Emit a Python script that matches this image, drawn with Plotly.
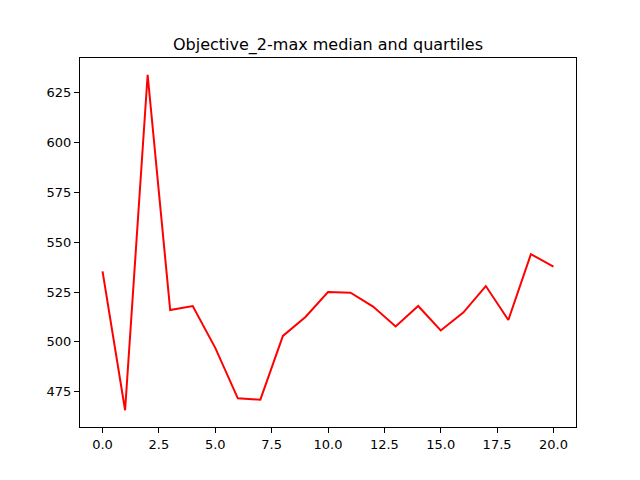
from plotly import graph_objects as go

# Data
generation = list(range(21))
median = [535.4, 465.7, 634.0, 516.0, 518.0, 497.0, 471.7, 471.0, 503.0, 512.5,
          525.0, 524.7, 517.7, 507.7, 518.0, 505.7, 514.7, 528.0, 511.0, 544.0, 537.7]
x_ticks = [0, 2.5, 5, 7.5, 10, 12.5, 15, 17.5, 20]
y_ticks = [475, 500, 525, 550, 575, 600, 625]

FONT = "DejaVu Sans, Arial, sans-serif"

axis_style = dict(
    showgrid=False,
    zeroline=False,
    showline=True,
    linecolor="black",
    linewidth=1,
    mirror=True,
    ticks="outside",
    ticklen=5,
    tickwidth=1,
    tickcolor="black",
    tickfont=dict(family=FONT, size=13, color="black"),
)

fig = go.Figure(
    go.Scatter(
        x=generation,
        y=median,
        mode="lines",
        line=dict(color="red", width=2),
    )
)

# the page adds ~8px offset, so margins are shifted to compensate
fig.update_layout(
    width=640,
    height=480,
    autosize=False,
    paper_bgcolor="white",
    plot_bgcolor="white",
    showlegend=False,
    margin=dict(l=72, r=72, t=50, b=61),
    title=dict(
        text="Objective_2-max median and quartiles",
        font=dict(family=FONT, size=16, color="black"),
        x=0.5,
        xref="paper",
        xanchor="center",
        y=1 - 36 / 480,
        yref="container",
        yanchor="middle",
    ),
    xaxis=dict(axis_style, range=[-1, 21], tickvals=x_ticks, tickformat=".1f"),
    yaxis=dict(axis_style, range=[457.3, 642.4], tickvals=y_ticks),
)

fig.write_html("out.html")
